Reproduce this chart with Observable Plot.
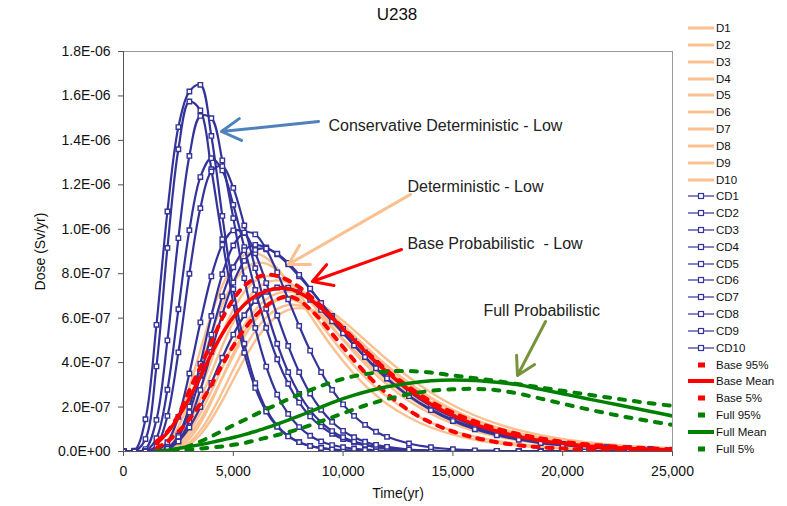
<!DOCTYPE html>
<html>
<head>
<meta charset="utf-8">
<script src="https://cdn.jsdelivr.net/npm/d3@7"></script>
<script src="https://cdn.jsdelivr.net/npm/@observablehq/plot@0.6"></script>
<style>
  body { margin: 0; background: #fff; font-family: "Liberation Sans", Arial, sans-serif; }
  #wrap { position: relative; width: 787px; height: 506px; overflow: hidden; }
  #title { position: absolute; top: 5px; left: 0; width: 794px; text-align: center; font-size: 17px; color: #111; }
  #legend { position: absolute; left: 0; top: 0; }
  .lg { position: absolute; left: 688px; height: 16px; display: flex; align-items: center; font-size: 11.5px; color: #111; white-space: nowrap; }
  .lg svg { display: block; }
</style>
</head>
<body>
<div id="wrap">
  <div id="chart"></div>
  <div id="title">U238</div>
  <div id="legend"></div>
</div>
<script>
// ---------- data (dose values in units of 1e-7 Sv/yr) ----------
const UNIT = 1e-7;
const T = [0,500,1000,1500,2000,2500,3000,3500,4000,4500,5000,5500,6000,6500,7000,7500,8000,8500,9000,9500,10000,10500,11000,11500,12000,13000,14000,15000,16000,17000,18000,19000,20000,21000,22000,23000,24000,25000];

const X_TICKS = [0, 5000, 10000, 15000, 20000, 25000];
const Y_TICKS = [0, 2e-7, 4e-7, 6e-7, 8e-7, 1e-6, 1.2e-6, 1.4e-6, 1.6e-6, 1.8e-6];

const D_NAMES = ["D1","D2","D3","D4","D5","D6","D7","D8","D9","D10"];
const D1  = [0,0,0,0.09,0.5,1.45,2.89,4.56,6.16,7.47,8.36,8.84,8.94,8.71,8.24,7.6,6.88,6.13,5.4,4.7,4.07,3.49,2.98,2.53,2.14,1.53,1.08,0.76,0.53,0.37,0.26,0.19,0.13,0.09,0.07,0.05,0.03,0.02];
const D2  = [0,0,0,0.06,0.36,1.11,2.31,3.79,5.29,6.6,7.58,8.2,8.48,8.45,8.15,7.67,7.07,6.41,5.73,5.07,4.45,3.87,3.35,2.88,2.47,1.8,1.3,0.93,0.67,0.48,0.34,0.24,0.17,0.12,0.09,0.07,0.05,0.03];
const D3  = [0,0,0,0.03,0.21,0.72,1.6,2.79,4.09,5.34,6.39,7.18,7.67,7.88,7.86,7.62,7.23,6.73,6.17,5.59,5.01,4.46,3.94,3.45,3.02,2.27,1.7,1.25,0.92,0.68,0.5,0.36,0.27,0.2,0.14,0.11,0.08,0.06];
const D4  = [0,0,0,0.02,0.16,0.56,1.31,2.35,3.55,4.75,5.82,6.67,7.26,7.6,7.7,7.6,7.32,6.92,6.44,5.91,5.37,4.83,4.32,3.83,3.38,2.6,1.97,1.48,1.11,0.83,0.61,0.46,0.34,0.25,0.19,0.14,0.1,0.08];
const D5  = [0,0,0,0.02,0.12,0.44,1.06,1.96,3.05,4.18,5.23,6.11,6.78,7.21,7.42,7.43,7.27,6.98,6.58,6.12,5.63,5.12,4.63,4.15,3.7,2.9,2.24,1.71,1.3,0.98,0.74,0.56,0.42,0.31,0.24,0.18,0.13,0.1];
const D6  = [0,0,0,0.01,0.1,0.37,0.91,1.72,2.71,3.78,4.8,5.68,6.37,6.85,7.12,7.2,7.12,6.89,6.55,6.15,5.7,5.22,4.75,4.29,3.85,3.05,2.39,1.84,1.41,1.08,0.82,0.62,0.47,0.36,0.27,0.21,0.16,0.12];
const D7  = [0,0,0,0.01,0.07,0.29,0.73,1.43,2.33,3.32,4.3,5.18,5.91,6.45,6.8,6.97,6.99,6.86,6.61,6.27,5.88,5.45,5.01,4.57,4.14,3.34,2.65,2.08,1.62,1.25,0.96,0.74,0.57,0.43,0.33,0.25,0.2,0.15];
const D8  = [0,0,0,0,0.04,0.19,0.58,1.27,2.23,3.32,4.41,5.37,6.12,6.62,6.86,6.88,6.72,6.42,6.02,5.56,5.06,4.57,4.08,3.62,3.19,2.44,1.83,1.37,1.01,0.74,0.54,0.4,0.29,0.21,0.15,0.11,0.08,0.06];
const D9  = [0,0,0,0,0.02,0.13,0.41,0.95,1.73,2.68,3.69,4.63,5.43,6.03,6.42,6.59,6.57,6.4,6.12,5.75,5.33,4.89,4.43,3.99,3.57,2.8,2.16,1.64,1.24,0.93,0.69,0.52,0.38,0.28,0.21,0.16,0.12,0.09];
const D10 = [0,0,0,0,0.02,0.09,0.32,0.76,1.44,2.29,3.23,4.16,4.98,5.64,6.1,6.37,6.45,6.38,6.18,5.88,5.52,5.12,4.7,4.27,3.86,3.09,2.42,1.88,1.44,1.09,0.83,0.62,0.47,0.35,0.26,0.2,0.15,0.11];

const CD_NAMES = ["CD1","CD2","CD3","CD4","CD5","CD6","CD7","CD8","CD9","CD10"];
const CD1  = [0,0.04,1.45,5.7,10.8,14.6,16.2,16.5,14.2,10.6,7.3,4.85,3.08,1.9,1.16,0.7,0.42,0.25,0.15,0.09,0.05,0.03,0.02,0.01,0.01,0,0,0,0,0,0,0,0,0,0,0,0,0];
const CD2  = [0,0,0.56,3.83,9.16,13.6,15.75,15.35,12.7,9.55,6.68,4.44,2.86,1.8,1.11,0.68,0.42,0.25,0.16,0.1,0.06,0.04,0.02,0.01,0.01,0,0,0,0,0,0,0,0,0,0,0,0,0];
const CD3  = [0,0,0.11,1.42,5.0,9.6,13.3,15.1,15.0,13.1,10.5,7.8,5.56,3.82,2.56,1.69,1.1,0.71,0.45,0.29,0.19,0.12,0.08,0.05,0.03,0.01,0,0,0,0,0,0,0,0,0,0,0,0];
const CD4  = [0,0,0.03,0.6,2.78,6.4,9.96,12.35,13.2,12.65,11.1,9.2,7.27,5.56,4.15,3.05,2.2,1.58,1.13,0.8,0.56,0.4,0.28,0.2,0.14,0.07,0.03,0.01,0,0,0,0,0,0,0,0,0,0];
const CD5  = [0,0,0.01,0.25,1.6,4.46,8.0,10.95,12.6,12.84,11.86,10.17,8.25,6.42,4.85,3.57,2.59,1.85,1.31,0.92,0.64,0.45,0.31,0.21,0.15,0.07,0.03,0.01,0,0,0,0,0,0,0,0,0,0];
const CD6  = [0,0,0,0.05,0.42,1.56,3.51,5.81,7.88,9.3,9.95,9.83,8.92,7.58,6.12,4.75,3.57,2.61,1.88,1.33,0.93,0.64,0.44,0.3,0.21,0.09,0.04,0.02,0.01,0,0,0,0,0,0,0,0,0];
const CD7  = [0,0,0,0.01,0.14,0.72,2.02,3.95,6.1,7.98,9.27,9.85,9.77,9.1,8.06,6.85,5.65,4.54,3.57,2.77,2.12,1.6,1.2,0.89,0.66,0.36,0.19,0.1,0.05,0.03,0.01,0,0,0,0,0,0,0];
const CD8  = [0,0,0,0.01,0.14,0.65,1.76,3.4,5.26,6.98,8.29,9.06,9.3,9.18,8.87,8.42,7.88,7.3,6.69,6.1,5.52,4.97,4.46,3.99,3.56,2.7,2.05,1.55,1.15,0.86,0.63,0.46,0.34,0.25,0.18,0.13,0.1,0.07];
const CD9  = [0,0,0,0.01,0.1,0.47,1.36,2.77,4.48,6.18,7.6,8.58,9.07,9.13,8.9,8.49,7.95,7.33,6.68,6.03,5.4,4.8,4.25,3.74,3.28,2.5,1.9,1.43,1.07,0.8,0.6,0.45,0.34,0.26,0.19,0.15,0.11,0.08];
const CD10 = [0,0,0,0.02,0.12,0.45,1.08,2.0,3.09,4.22,5.26,6.13,6.77,7.19,7.38,7.37,7.17,6.83,6.37,5.86,5.32,4.77,4.25,3.75,3.29,2.49,1.86,1.37,1.0,0.73,0.53,0.38,0.28,0.2,0.14,0.1,0.08,0.06];

const BASE_95   = [null,null,null,0.45,0.9,1.65,2.75,3.8,4.9,6.0,6.85,7.45,7.8,7.95,7.9,7.7,7.4,7.0,6.55,6.05,5.55,5.05,4.55,4.1,3.65,2.9,2.25,1.75,1.35,1.03,0.78,0.59,0.44,0.33,0.25,0.19,0.14,0.1];
const BASE_MEAN = [null,null,null,0.35,0.85,1.55,2.4,3.35,4.4,5.3,6.05,6.6,7.0,7.22,7.33,7.33,7.15,6.85,6.45,6.0,5.5,5.0,4.5,4.02,3.57,2.78,2.13,1.62,1.22,0.91,0.67,0.49,0.36,0.26,0.19,0.14,0.1,0.07];
const BASE_5    = [null,null,null,0.15,0.45,0.9,1.45,2.15,3.0,3.9,4.75,5.5,6.1,6.55,6.85,6.98,6.8,6.4,5.9,5.3,4.7,4.1,3.55,3.05,2.6,1.85,1.3,0.9,0.62,0.42,0.28,0.19,0.13,0.09,0.06,0.04,0.03,0.02];
const FULL_95   = [null,null,null,0,0.03,0.1,0.25,0.45,0.68,0.93,1.18,1.42,1.66,1.9,2.12,2.35,2.56,2.76,2.95,3.12,3.27,3.39,3.48,3.55,3.6,3.62,3.55,3.42,3.3,3.17,3.03,2.88,2.73,2.58,2.44,2.3,2.17,2.05];
const FULL_MEAN = [null,null,null,0,0.06,0.14,0.22,0.31,0.41,0.52,0.63,0.76,0.9,1.06,1.23,1.41,1.6,1.8,2.0,2.2,2.38,2.54,2.68,2.8,2.91,3.07,3.18,3.22,3.2,3.12,3.0,2.8,2.6,2.4,2.2,2.0,1.8,1.6];
const FULL_5    = [null,null,null,0,0.02,0.05,0.09,0.13,0.18,0.23,0.3,0.38,0.5,0.62,0.74,0.87,1.02,1.18,1.36,1.54,1.72,1.9,2.07,2.22,2.36,2.58,2.73,2.8,2.82,2.76,2.6,2.38,2.15,1.93,1.72,1.53,1.36,1.2];

// annotations (positions in data units: years, Sv/yr)
const NOTE_TEXT = ["Conservative Deterministic - Low", "Deterministic - Low", "Base Probabilistic  - Low", "Full Probabilistic"];
const NOTE_X    = [9335, 12930, 12930, 16390];
const NOTE_Y    = [1.467e-6, 1.193e-6, 9.36e-7, 6.35e-7];
const ARROW_X1  = [8880, 13070, 12660, 19220];
const ARROW_Y1  = [1.485e-6, 1.157e-6, 9.09e-7, 5.85e-7];
const ARROW_X2  = [4460, 7510, 8600, 17940];
const ARROW_Y2  = [1.44e-6, 8.42e-7, 7.65e-7, 3.42e-7];

// ---------- build tables ----------
const NAVY = "#333399", PEACH = "#FAC090", RED = "#FF0000", GREEN = "#008000";
const ARROW_COLORS = ["#4F81BD", "#FAC090", "#FF0000", "#77933C"];

function toRows(name, vals) {
  const rows = [];
  T.forEach((t, i) => { if (vals[i] != null) rows.push({t, v: vals[i] * UNIT, s: name}); });
  return rows;
}
const dSeries = [D1,D2,D3,D4,D5,D6,D7,D8,D9,D10];
const cdSeries = [CD1,CD2,CD3,CD4,CD5,CD6,CD7,CD8,CD9,CD10];
const dRows = dSeries.flatMap((v, i) => toRows(D_NAMES[i], v));
const cdRows = cdSeries.flatMap((v, i) => toRows(CD_NAMES[i], v));
const b95 = toRows("Base 95%", BASE_95), bMean = toRows("Base Mean", BASE_MEAN), b5 = toRows("Base 5%", BASE_5);
const f95 = toRows("Full 95%", FULL_95), fMean = toRows("Full Mean", FULL_MEAN), f5 = toRows("Full 5%", FULL_5);
const notes = NOTE_TEXT.map((text, i) => ({text, x: NOTE_X[i], y: NOTE_Y[i]}));
const arrows = ARROW_X1.map((x1, i) => ({x1, y1: ARROW_Y1[i], x2: ARROW_X2[i], y2: ARROW_Y2[i], c: ARROW_COLORS[i]}));

function fmtE(d) {
  const [m, e] = d.toExponential(1).split("e");
  const n = Math.abs(parseInt(e, 10));
  return m + "E" + (e[0] === "-" ? "-" : "+") + String(n).padStart(2, "0");
}

const curve = "catmull-rom";
const chart = Plot.plot({
  width: 787, height: 506,
  marginLeft: 123, marginRight: 115, marginTop: 51, marginBottom: 55,
  style: {fontFamily: "'Liberation Sans', Arial, sans-serif", fontSize: "14px", color: "#111", background: "white", overflow: "visible"},
  x: {domain: [0, 25000]},
  y: {domain: [0, 1.8e-6]},
  marks: [
    Plot.frame({stroke: "#9a9a9a"}),
    Plot.line(dRows, {x: "t", y: "v", z: "s", stroke: PEACH, strokeWidth: 2.4, curve, clip: true}),
    Plot.line(cdRows, {x: "t", y: "v", z: "s", stroke: NAVY, strokeWidth: 2.2, curve, clip: true}),
    Plot.dot(cdRows, {x: "t", y: "v", symbol: "square", r: 2.5, stroke: NAVY, strokeWidth: 1.4, fill: "white", clip: true}),
    Plot.line(b95, {x: "t", y: "v", stroke: RED, strokeWidth: 4, strokeDasharray: "6,8", curve, clip: true}),
    Plot.line(bMean, {x: "t", y: "v", stroke: RED, strokeWidth: 3.5, curve, clip: true}),
    Plot.line(b5, {x: "t", y: "v", stroke: RED, strokeWidth: 4, strokeDasharray: "6,8", curve, clip: true}),
    Plot.line(f95, {x: "t", y: "v", stroke: GREEN, strokeWidth: 4, strokeDasharray: "6,9", curve, clip: true}),
    Plot.line(fMean, {x: "t", y: "v", stroke: GREEN, strokeWidth: 3.5, curve, clip: true}),
    Plot.line(f5, {x: "t", y: "v", stroke: GREEN, strokeWidth: 4, strokeDasharray: "6,9", curve, clip: true}),
    Plot.ruleX([0], {stroke: "#555"}),
    Plot.ruleY([0], {stroke: "#555"}),
    Plot.axisX({ticks: X_TICKS, tickFormat: d3.format(","), tickSize: 5, tickPadding: 10, label: "Time(yr)", labelAnchor: "center", labelArrow: "none", labelOffset: 46, stroke: "#555"}),
    Plot.axisY({ticks: Y_TICKS, tickFormat: fmtE, tickSize: 5, tickPadding: 8, label: "Dose (Sv/yr)", labelAnchor: "center", labelArrow: "none", labelOffset: 88, stroke: "#555"}),
    Plot.arrow(arrows, {x1: "x1", y1: "y1", x2: "x2", y2: "y2", stroke: "c", strokeWidth: 3, headLength: 11}),
    Plot.text(notes, {x: "x", y: "y", text: "text", textAnchor: "start", fontSize: 16, fill: "#222"})
  ]
});
document.getElementById("chart").append(chart);

// ---------- legend ----------
const legendItems = [
  ...D_NAMES.map(n => ({name: n, kind: "line", color: PEACH, w: 3})),
  ...CD_NAMES.map(n => ({name: n, kind: "marker", color: NAVY})),
  {name: "Base 95%", kind: "dash", color: RED},
  {name: "Base Mean", kind: "line", color: RED, w: 4},
  {name: "Base 5%", kind: "dash", color: RED},
  {name: "Full 95%", kind: "dash", color: GREEN},
  {name: "Full Mean", kind: "line", color: GREEN, w: 4},
  {name: "Full 5%", kind: "dash", color: GREEN}
];
function swatch(it) {
  if (it.kind === "line") return `<line x1="0" x2="26" y1="6" y2="6" stroke="${it.color}" stroke-width="${it.w}"/>`;
  if (it.kind === "marker") return `<line x1="0" x2="26" y1="6" y2="6" stroke="${it.color}" stroke-width="1.2"/><rect x="10.5" y="3.5" width="5" height="5" fill="white" stroke="${it.color}" stroke-width="1.2"/>`;
  return `<rect x="10" y="3.5" width="7" height="5" fill="${it.color}"/>`;
}
document.getElementById("legend").innerHTML = legendItems.map((it, i) =>
  `<div class="lg" style="top:${(28 + i * 16.83 - 8).toFixed(1)}px"><svg width="26" height="12">${swatch(it)}</svg><span style="margin-left:2px">${it.name}</span></div>`
).join("");
</script>
</body>
</html>
